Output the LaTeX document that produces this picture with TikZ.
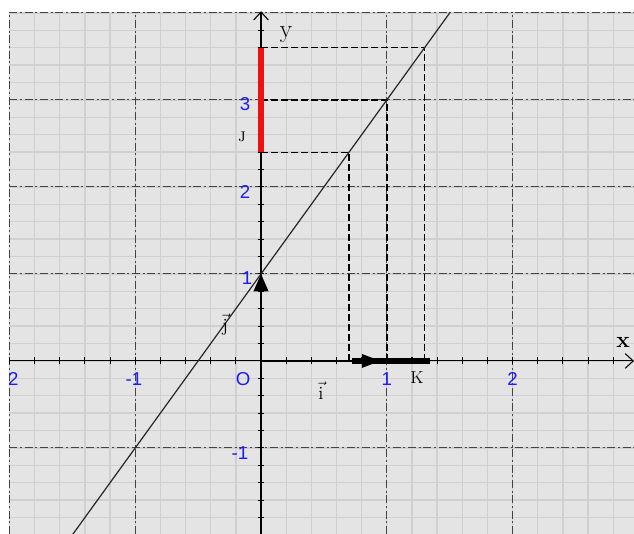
\documentclass[tikz,border=0pt]{standalone}
\usepackage{fontspec}
\newfontfamily\labfont{Liberation Sans}
\usetikzlibrary{arrows.meta}
\definecolor{bg}{HTML}{E4E4E4}
\definecolor{minorc}{HTML}{D0D0D0}
\definecolor{majorc}{HTML}{444444}
\definecolor{lblue}{HTML}{1C1CF2}
\definecolor{segred}{HTML}{EE1111}
\begin{document}
\begin{tikzpicture}[x=94.35pt, y=65.25pt,
  majorline/.style={draw=majorc, line width=0.8pt, dash pattern=on 6pt off 2pt on 1.5pt off 2pt},
  minorline/.style={draw=minorc, line width=1pt},
  proj/.style={draw=black, line width=0.95pt, dash pattern=on 5pt off 2.5pt},
  projbold/.style={proj, line width=1.4pt},
  axisline/.style={draw=black, line width=0.8pt},
  tickmark/.style={draw=black, line width=0.8pt},
  numlab/.style={text=lblue, font=\labfont\fontsize{14}{16}\selectfont, inner sep=0pt},
  letterlab/.style={text=black, inner sep=0pt},
  vecline/.style={draw=black, line width=1.8pt},
]
\useasboundingbox (-2.075,-1.989) rectangle (2.965,4.149);
% background
\fill[bg] (-2,-1.989) rectangle (2.965,4);
% minor grid
\foreach \i in {-10,...,15} {
  \draw[minorline] (\i/5,-1.989) -- (\i/5,4);
}
\foreach \j in {-10,...,20} {
  \draw[minorline] (-2,\j/5) -- (2.965,\j/5);
}
% major dashed grid
\foreach \i in {-2,-1,1,2} {
  \draw[majorline] (\i,-1.989) -- (\i,4);
}
\foreach \j in {-1,1,2,3,4} {
  \draw[majorline] (-2,\j) -- (2.965,\j);
}
% named points
\coordinate (O) at (0,0);
\coordinate (E1) at (1,0);
\coordinate (Ih) at (0.95,0);
\coordinate (J1) at (0,1);
\coordinate (Xs) at (-2,0);
\coordinate (Xe) at (2.965,0);
\coordinate (Ys) at (0,-1.989);
\coordinate (Ye) at (0,4.02);
\coordinate (La) at (-1.5,-2);
\coordinate (Lb) at (1.5,4);
\coordinate (Ja) at (0,2.4);
\coordinate (Jb) at (0,3.6);
\coordinate (Jm) at (0,3);
\coordinate (Pa) at (0.7,2.4);
\coordinate (Pb) at (1.3,3.6);
\coordinate (Pm) at (1,3);
\coordinate (Ka) at (0.7,0);
\coordinate (Kb) at (1.3,0);
\coordinate (Ks) at (0.72,0);
\coordinate (Ke) at (1.34,0);
% projections
\draw[proj] (Jb) -- (Pb) -- (Kb);
\draw[proj] (Ja) -- (Pa) -- (Ka);
\draw[projbold] (Jm) -- (Pm) -- (E1);
% axes
\draw[axisline, -{Straight Barb[length=6pt,width=11pt]}] (Xs) -- (Xe);
\draw[axisline, -{Straight Barb[length=6pt,width=11pt]}] (Ys) -- (Ye);
\foreach \i in {-10,...,14} {
  \draw[tickmark] (\i/5,0) ++(0,-2.6pt) -- ++(0,5.2pt);
}
\foreach \j in {-10,...,19} {
  \draw[tickmark] (0,\j/5) ++(-2.6pt,0) -- ++(5.2pt,0);
}
% the line
\draw[draw=black!85, line width=0.9pt] (La) -- (Lb);
% red segment J
\draw[segred, line width=4pt] (Ja) -- (Jb);
% thick segment K
\draw[black, line width=4.5pt] (Ks) -- (Ke);
% vectors
\draw[vecline, -{Triangle[length=14pt,width=10pt]}] (O) -- (Ih);
\draw[axisline, line width=1.2pt, -{Triangle[length=13pt,width=11pt]}] (O) -- (J1);
% labels
\node[numlab] (n1) at (1,-0.207) {1};
\node[numlab] (n2) at (2,-0.207) {2};
\node[numlab] (nm1) at (-1.01,-0.207) {-1};
\node[numlab] (nm2) at (-1.97,-0.207) {2};
\node[numlab] (nO) at (-0.143,-0.207) {O};
\node[numlab] (y3) at (-0.127,2.954) {3};
\node[numlab] (y2) at (-0.127,1.943) {2};
\node[numlab] (y1) at (-0.111,0.954) {1};
\node[numlab] (ym1) at (-0.167,-1.054) {-1};
\node[numlab] (ym2) at (-0.167,-2.08) {-2};
\node[letterlab, font=\fontsize{19}{21}\selectfont] (ly) at (0.199,3.75) {y};
\node[letterlab, font=\bfseries\fontsize{17}{19}\selectfont] (lx) at (2.878,0.218) {x};
\node[letterlab, font=\fontsize{13}{15}\selectfont] (lK) at (1.24,-0.195) {K};
\node[letterlab, font=\fontsize{14}{16}\selectfont] (lJ) at (-0.151,2.575) {\textsc{j}};
\node[letterlab, font=\fontsize{14}{16}\selectfont] (vj) at (-0.286,0.414) {$\vec{\mathrm{j}}$};
\node[letterlab, font=\fontsize{14}{16}\selectfont] (vi) at (0.477,-0.345) {$\vec{\mathrm{i}}$};
\end{tikzpicture}
\end{document}
